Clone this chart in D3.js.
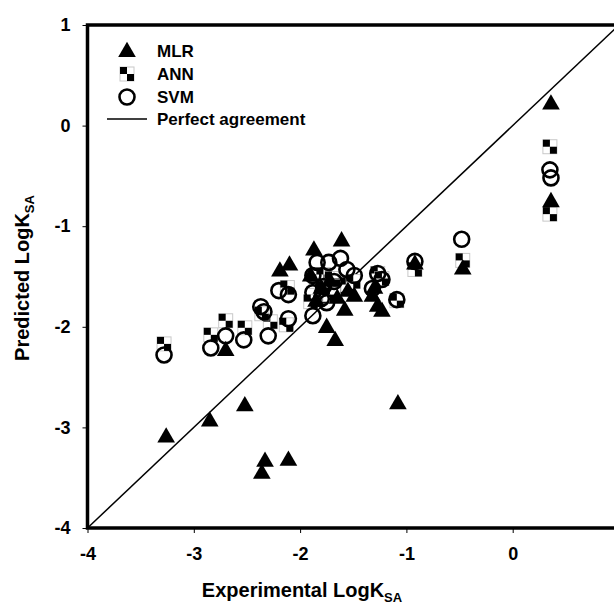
<!DOCTYPE html>
<html>
<head>
<meta charset="utf-8">
<script src="https://cdn.jsdelivr.net/npm/d3@7"></script>
<style>
  body { margin: 0; background: #fff; }
  svg text { font-family: Arial, "Liberation Sans", sans-serif; font-weight: bold; }
</style>
</head>
<body>
<div id="chart"></div>
<script>
// MLR predictions [experimental, predicted]
const mlr = [
  [0.36, 0.21], [0.36, -0.76], [-0.47, -1.43], [-0.92, -1.38], [-1.08, -2.77],
  [-3.26, -3.10], [-2.85, -2.94], [-2.52, -2.79], [-2.36, -3.46], [-2.33, -3.34],
  [-2.11, -3.33], [-2.70, -2.24], [-2.19, -1.45], [-2.10, -1.39], [-1.87, -1.24],
  [-1.61, -1.15], [-1.75, -2.01], [-1.67, -2.14], [-1.58, -1.84], [-1.49, -1.70],
  [-1.32, -1.70], [-1.23, -1.85], [-1.27, -1.80], [-1.85, -1.75], [-1.80, -1.62],
  [-1.72, -1.55], [-1.65, -1.72], [-1.55, -1.65], [-1.90, -1.50], [-1.30, -1.62]
];
// ANN predictions
const ann = [
  [0.35, -0.21], [0.35, -0.88], [-0.47, -1.34], [-0.92, -1.43], [-1.09, -1.74],
  [-3.28, -2.17], [-2.84, -2.08], [-2.70, -1.94], [-2.52, -2.01], [-2.28, -1.95],
  [-2.36, -1.87], [-2.13, -1.98], [-2.12, -1.61], [-1.85, -1.55], [-1.78, -1.48],
  [-1.70, -1.52], [-1.62, -1.60], [-1.55, -1.58], [-1.80, -1.70], [-1.72, -1.68],
  [-1.90, -1.75], [-1.50, -1.55], [-1.27, -1.47], [-1.23, -1.52]
];
// SVM predictions
const svm = [
  [0.35, -0.44], [0.36, -0.52], [-0.48, -1.13], [-0.92, -1.35], [-1.09, -1.73],
  [-3.28, -2.28], [-2.84, -2.21], [-2.70, -2.09], [-2.53, -2.13], [-2.30, -2.09],
  [-2.37, -1.80], [-2.34, -1.85], [-2.20, -1.64], [-2.11, -1.68], [-2.11, -1.92],
  [-1.88, -1.89], [-1.84, -1.36], [-1.73, -1.36], [-1.62, -1.32], [-1.88, -1.49],
  [-1.88, -1.66], [-1.75, -1.76], [-1.56, -1.43], [-1.49, -1.49], [-1.32, -1.62],
  [-1.27, -1.47], [-1.23, -1.53], [-1.78, -1.60], [-1.68, -1.55], [-1.80, -1.72]
];
const xTicks = [-4, -3, -2, -1, 0];
const yTicks = [-4, -3, -2, -1, 0, 1];
const legendLabels = ["MLR", "ANN", "SVM", "Perfect agreement"];

const width = 614, height = 606;
const svg = d3.select("#chart").append("svg")
  .attr("width", width).attr("height", height);

const x = d3.scaleLinear().domain([-4, 1]).range([87.5, 619]);
const y = d3.scaleLinear().domain([-4, 1]).range([528, 25]);

// axes
const xAxis = svg.append("g")
  .attr("transform", `translate(0,${y(-4)})`)
  .call(d3.axisBottom(x).tickValues(xTicks).tickSize(5).tickPadding(14).tickFormat(d3.format("d")));
const yAxis = svg.append("g")
  .attr("transform", `translate(${x(-4)},0)`)
  .call(d3.axisLeft(y).tickValues(yTicks).tickSize(5).tickPadding(12).tickFormat(d3.format("d")));
[xAxis, yAxis].forEach(a => {
  a.select(".domain").remove();
  a.selectAll("text").attr("font-size", 18).attr("fill", "#000")
    .text(d => d < 0 ? "-" + Math.abs(d) : d);
});

// frame
svg.append("rect")
  .attr("x", x(-4)).attr("y", y(1))
  .attr("width", x(1) - x(-4)).attr("height", y(-4) - y(1))
  .attr("fill", "none").attr("stroke", "#000").attr("stroke-width", 3.5);

// perfect agreement line
svg.append("line")
  .attr("x1", x(-4)).attr("y1", y(-4)).attr("x2", x(1)).attr("y2", y(1))
  .attr("stroke", "#000").attr("stroke-width", 1.5);

const tri = d3.symbol().type(d3.symbolTriangle).size(135);

function drawAnn(g, cx, cy) {
  const s = 7;
  g.append("rect").attr("x", cx - s).attr("y", cy - s).attr("width", 2 * s).attr("height", 2 * s)
    .attr("fill", "#fff").attr("stroke", "#c8c8c8").attr("stroke-width", 1);
  g.append("rect").attr("x", cx - s).attr("y", cy - s).attr("width", s).attr("height", s).attr("fill", "#000");
  g.append("rect").attr("x", cx).attr("y", cy).attr("width", s).attr("height", s).attr("fill", "#000");
}

const pts = svg.append("g");
ann.forEach(d => drawAnn(pts.append("g"), x(d[0]), y(d[1])));
pts.selectAll("path.mlr").data(mlr).join("path")
  .attr("class", "mlr")
  .attr("d", tri)
  .attr("transform", d => `translate(${x(d[0])},${y(d[1])})`)
  .attr("fill", "#000");
pts.selectAll("circle.svm").data(svm).join("circle")
  .attr("class", "svm")
  .attr("cx", d => x(d[0])).attr("cy", d => y(d[1])).attr("r", 7.5)
  .attr("fill", "none").attr("stroke", "#000").attr("stroke-width", 2.6);

// legend
const lg = svg.append("g");
const lx = 127, ly = [51, 74, 97, 119];
lg.append("path").attr("d", tri).attr("transform", `translate(${lx},${ly[0] + 1})`).attr("fill", "#000");
drawAnn(lg, lx, ly[1]);
lg.append("circle").attr("cx", lx).attr("cy", ly[2]).attr("r", 7.5)
  .attr("fill", "none").attr("stroke", "#000").attr("stroke-width", 2.6);
lg.append("line").attr("x1", 107).attr("x2", 147).attr("y1", ly[3]).attr("y2", ly[3])
  .attr("stroke", "#000").attr("stroke-width", 1.5);
legendLabels.forEach((t, i) => {
  lg.append("text").attr("x", 157).attr("y", ly[i] + 6).attr("font-size", 17).text(t);
});

// axis titles
const xt = svg.append("text").attr("x", 302).attr("y", 597)
  .attr("text-anchor", "middle").attr("font-size", 20);
xt.append("tspan").text("Experimental LogK");
xt.append("tspan").attr("font-size", 13).attr("dy", 5).text("SA");

const yt = svg.append("text").attr("transform", "translate(29,278) rotate(-90)")
  .attr("text-anchor", "middle").attr("font-size", 20);
yt.append("tspan").text("Predicted LogK");
yt.append("tspan").attr("font-size", 13).attr("dy", 5).text("SA");
</script>
</body>
</html>
